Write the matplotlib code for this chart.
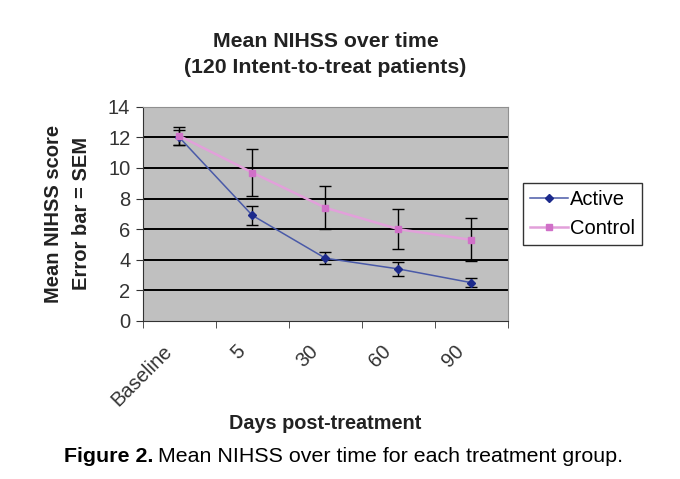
import numpy as np
import matplotlib
matplotlib.use("Agg")
import matplotlib.pyplot as plt
import matplotlib.transforms as mtransforms

plt.rcParams['font.family'] = ['Liberation Sans', 'DejaVu Sans']

# data
days = ["Baseline", "5", "30", "60", "90"]
active = [12.0, 6.9, 4.1, 3.4, 2.5]
active_sem = [0.5, 0.6, 0.4, 0.45, 0.3]
control = [12.1, 9.7, 7.4, 6.0, 5.3]
control_sem = [0.6, 1.55, 1.4, 1.3, 1.4]

fig = plt.figure(figsize=(6.8, 4.79), dpi=100)
ax = fig.add_axes([0.21, 0.33, 0.537, 0.447])
ax.set_facecolor("#c0c0c0")

x = np.arange(len(days))
ax.set_xlim(-0.5, len(days) - 0.5)
ax.set_ylim(0, 14)

for yv in range(2, 14, 2):
    ax.axhline(yv, color="black", lw=1.4, zorder=1)

ax.errorbar(x, control, yerr=control_sem, fmt="none", ecolor="black",
            elinewidth=1, capsize=4, capthick=1, zorder=2)
ax.errorbar(x, active, yerr=active_sem, fmt="none", ecolor="black",
            elinewidth=1, capsize=4, capthick=1, zorder=2)
ax.plot(x, active, color="#4a5aa8", lw=1.1, marker="D", ms=4.5,
        mfc="#1c2a8c", mec="#1c2a8c", label="Active", zorder=3)
ax.plot(x, control, color="#e2a0da", lw=1.8, marker="s", ms=4.5,
        mfc="#d070c8", mec="#d070c8", label="Control", zorder=3)

ax.set_yticks(range(0, 15, 2))
ax.tick_params(axis="y", labelsize=14.5, direction="out", length=5,
               colors="#333333", pad=4)
ax.set_xticks(x)
ax.set_xticklabels(days, rotation=45, ha="right", rotation_mode="anchor")
ax.set_xticks(np.arange(-0.5, len(days), 1), minor=True)
ax.tick_params(axis="x", which="major", length=0, labelsize=14.5, pad=15,
               labelcolor="#333333")
ax.tick_params(axis="x", which="minor", length=5, direction="out", color="#333333")
shift = mtransforms.ScaledTranslation(-17 / 100, 0, fig.dpi_scale_trans)
for lab in ax.get_xticklabels():
    lab.set_transform(lab.get_transform() + shift)

for side in ("top", "right"):
    ax.spines[side].set_color("#909090")
for side in ("left", "bottom"):
    ax.spines[side].set_color("#333333")

ax.set_title("Mean NIHSS over time\n(120 Intent-to-treat patients)",
             fontsize=15.3, fontweight="bold", color="#222222", pad=24,
             linespacing=1.5)
ax.set_ylabel("Mean NIHSS score\nError bar = SEM", fontsize=14.5,
              fontweight="bold", color="#222222", labelpad=12,
              linespacing=1.65)
ax.set_xlabel("Days post-treatment", fontsize=14.3, fontweight="bold",
              color="#222222", labelpad=3)

leg = fig.legend(loc="upper left", bbox_to_anchor=(0.769, 0.618), fontsize=14.5,
                 frameon=True, fancybox=False, edgecolor="black",
                 handlelength=1.9, handletextpad=0.1, borderpad=0.35,
                 labelspacing=0.5, borderaxespad=0)
leg.get_frame().set_linewidth(1)

# caption: bold label followed by regular text
cap_y = 1 - 456 / 479
t1 = fig.text(64 / 680, cap_y, "Figure 2.", fontsize=15.4, fontweight="bold",
              va="center")
fig.canvas.draw()
bb = t1.get_window_extent(renderer=fig.canvas.get_renderer())
fig.text(bb.x1 / fig.bbox.width + 0.007, cap_y,
         "Mean NIHSS over time for each treatment group.", fontsize=15.4,
         va="center")

fig.savefig("out.png", dpi=100)
